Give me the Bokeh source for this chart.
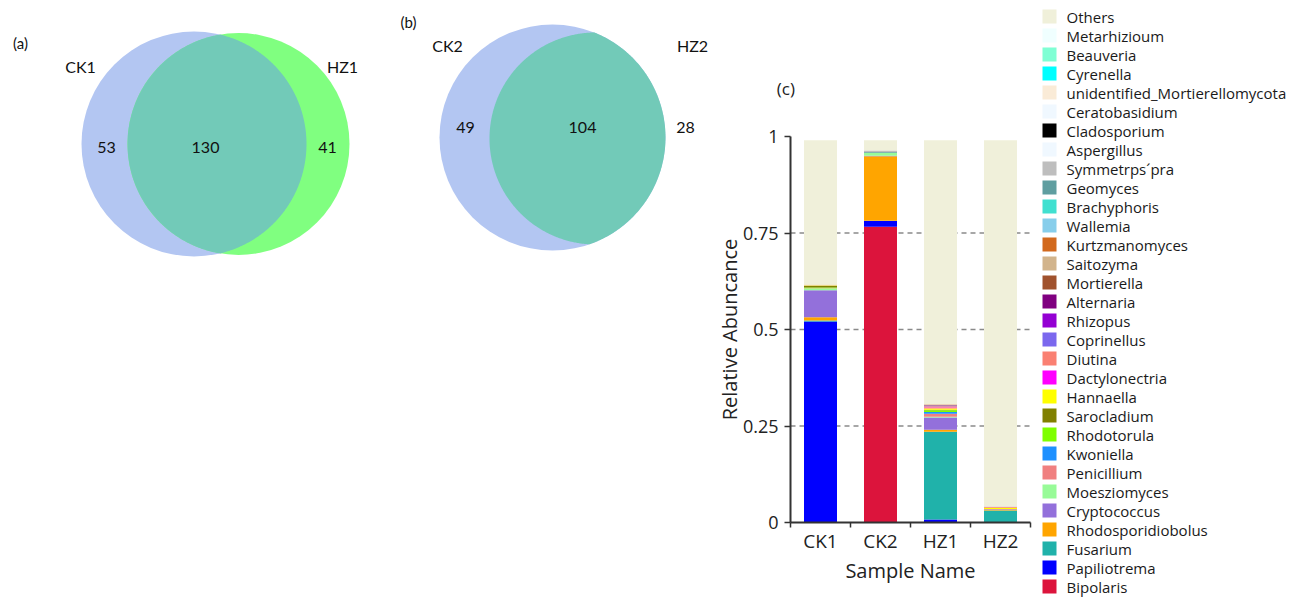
import numpy as np
from bokeh.plotting import figure
from bokeh.models import ColumnDataSource, Range1d, FixedTicker, LinearAxis
from bokeh.layouts import row
from bokeh.core.properties import value
from bokeh.embed import file_html
from bokeh.resources import INLINE

# ---------------- data ----------------
venn_a_sets = ["CK1", "HZ1"]
venn_a_counts = [53, 130, 41]      # CK1 only, shared, HZ1 only
venn_b_sets = ["CK2", "HZ2"]
venn_b_counts = [49, 104, 28]      # CK2 only, shared, HZ2 only

samples = ["CK1", "CK2", "HZ1", "HZ2"]

# stack order, bottom -> top
genera = ["Bipolaris", "Papiliotrema", "Fusarium", "Rhodosporidiobolus", "Cryptococcus",
          "Moesziomyces", "Penicillium", "Kwoniella", "Rhodotorula", "Sarocladium",
          "Hannaella", "Dactylonectria", "Diutina", "Coprinellus", "Rhizopus",
          "Alternaria", "Mortierella", "Saitozyma", "Kurtzmanomyces", "Wallemia",
          "Brachyphoris", "Geomyces", "Symmetrps\u00b4pra", "Aspergillus", "Cladosporium",
          "Ceratobasidium", "unidentified_Mortierellomycota", "Cyrenella", "Beauveria",
          "Metarhizioum", "Others"]
colors = ["#DC143C", "#0000FF", "#20B2AA", "#FFA500", "#9370DB",
          "#98FB98", "#F08080", "#1E90FF", "#7FFF00", "#808000",
          "#FFFF00", "#FF00FF", "#FA8072", "#7B68EE", "#9400D3",
          "#800080", "#A0522D", "#D2B48C", "#D2691E", "#87CEEB",
          "#40E0D0", "#5F9EA0", "#BEBEBE", "#F0F8FF", "#000000",
          "#F0F8FF", "#FAEBD7", "#00FFFF", "#7FFFD4",
          "#F0FFFF", "#F0F0DA"]

ck1 = [0.0, 0.521, 0.002, 0.009, 0.070, 0.004, 0.001, 0.0, 0.002, 0.004,
       0.001, 0.0, 0.0, 0.0, 0.0, 0.0, 0.0, 0.001, 0.001, 0.0,
       0.0, 0.0, 0.0, 0.0, 0.0, 0.0, 0.0, 0.0, 0.0, 0.0, 0.374]
ck2 = [0.766, 0.015, 0.001, 0.167, 0.001, 0.008, 0.0, 0.0, 0.0, 0.0,
       0.0, 0.0, 0.0, 0.0, 0.0, 0.0, 0.0, 0.0, 0.0, 0.0,
       0.0, 0.002, 0.004, 0.0, 0.0, 0.0, 0.0, 0.0, 0.0, 0.0, 0.026]
hz1 = [0.001, 0.007, 0.227, 0.005, 0.032, 0.002, 0.008, 0.004, 0.005, 0.001,
       0.004, 0.002, 0.003, 0.002, 0.0, 0.001, 0.0, 0.0, 0.002, 0.0,
       0.0, 0.0, 0.0, 0.0, 0.0, 0.0, 0.0, 0.0, 0.0, 0.0, 0.684]
hz2 = [0.0, 0.001, 0.030, 0.003, 0.001, 0.0, 0.0, 0.0, 0.0, 0.0,
       0.003, 0.0, 0.002, 0.0, 0.0, 0.001, 0.0, 0.0, 0.0, 0.0,
       0.0, 0.0, 0.0, 0.0, 0.0, 0.0, 0.0, 0.0, 0.0, 0.0, 0.949]

y_ticks = [0, 0.25, 0.5, 0.75, 1]
y_tick_labels = ["0", "0.25", "0.5", "0.75", "1"]
grid_values = [0.25, 0.5, 0.75]

VENN_BLUE = "#B3C6F2"
VENN_GREEN = "#80FF80"
VENN_SHARED = "#72CAB8"
TXT = "#111111"
H = 600
W_VENN, W_BAR, W_LEG = 710, 324, 256


def lens(c1, c2, n=720):
    (x1, y1, r1), (x2, y2, r2) = c1, c2
    t = np.linspace(-np.pi, np.pi, n, endpoint=False)
    a12 = np.arctan2(y2 - y1, x2 - x1)
    a21 = np.arctan2(y1 - y2, x1 - x2)
    px1, py1 = x1 + r1 * np.cos(a12 + t), y1 + r1 * np.sin(a12 + t)
    m1 = (px1 - x2) ** 2 + (py1 - y2) ** 2 <= r2 ** 2
    px2, py2 = x2 + r2 * np.cos(a21 + t), y2 + r2 * np.sin(a21 + t)
    m2 = (px2 - x1) ** 2 + (py2 - y1) ** 2 <= r1 ** 2
    return (np.concatenate([px1[m1], px2[m2]]).tolist(),
            np.concatenate([py1[m1], py2[m2]]).tolist())


# ---------------- Venn figure (page-pixel coordinates) ----------------
pv = figure(width=W_VENN, height=H, x_range=Range1d(0, W_VENN), y_range=Range1d(H, 0),
            output_backend="svg", toolbar_location=None,
            x_axis_type=None, y_axis_type=None, min_border=0)
pv.outline_line_color = None
pv.grid.visible = False

ca1, ca2 = (193.5, 143.5, 112.5), (238.0, 143.5, 111.0)
cb1, cb2 = (552.0, 137.0, 113.0), (595.0, 138.0, 106.0)

pv.circle(x=[ca1[0]], y=[ca1[1]], radius=ca1[2], fill_color=VENN_BLUE, line_color=None)
pv.circle(x=[ca2[0]], y=[ca2[1]], radius=ca2[2], fill_color=VENN_GREEN, line_color=None)
lx, ly = lens(ca1, ca2)
pv.patch(lx, ly, fill_color=VENN_SHARED, line_color=None)

pv.circle(x=[cb1[0]], y=[cb1[1]], radius=cb1[2], fill_color=VENN_BLUE, line_color=None)
lx, ly = lens(cb1, cb2)
pv.patch(lx, ly, fill_color=VENN_SHARED, line_color=None)

venn_text = dict(
    x=[20, 408, 80, 342, 106, 205, 327, 447, 692, 465, 582, 685],
    y=[42, 21, 66, 66, 147, 147, 147, 45, 45, 127, 127, 127],
    text=["(a)", "(b)"] + venn_a_sets + [str(v) for v in venn_a_counts]
         + venn_b_sets + [str(v) for v in venn_b_counts],
    size=["15px", "15px"] + ["16px"] * 10,
)
pv.text(x="x", y="y", text="text", text_font_size="size", source=ColumnDataSource(venn_text),
        text_font=value("Lato"), text_color=TXT, text_align="center", text_baseline="middle")

# ---------------- stacked bar figure ----------------
# frame fills the whole figure; axes are pinned at 0 so they need no side panels
n = len(samples)
px_per_x = 60.0
px_per_y = 386.0
left_pad = 790 - W_VENN                  # page px from figure edge to the y axis
pb = figure(width=W_BAR, height=H,
            x_range=Range1d(-left_pad / px_per_x, (W_VENN + W_BAR - 790) / px_per_x),
            y_range=Range1d(-(H - 522) / px_per_y, 1 + 136 / px_per_y),
            output_backend="svg", toolbar_location=None,
            x_axis_type=None, y_axis_type=None, min_border=0)
pb.outline_line_color = None
pb.grid.visible = False

# dashed reference lines
pb.segment(x0=0, x1=n, y0=grid_values, y1=grid_values,
           line_color="#8a8a8a", line_dash="5 4", line_width=1.5)

xpos = [i + 0.5 for i in range(n)]
data = {"x": xpos}
for i, g in enumerate(genera):
    data[g] = [ck1[i], ck2[i], hz1[i], hz2[i]]
src = ColumnDataSource(data)
pb.vbar_stack(genera, x="x", width=0.55, fill_color=colors, line_color=None, source=src)

xa = LinearAxis(fixed_location=0, bounds=(0, n),
                ticker=FixedTicker(ticks=xpos, minor_ticks=list(range(n + 1))))
ya = LinearAxis(fixed_location=0, bounds=(0, 1),
                ticker=FixedTicker(ticks=y_ticks, minor_ticks=[]))
for ax in (xa, ya):
    ax.axis_line_color = "#333333"
    ax.axis_line_width = 2
    ax.major_label_text_font = "Open Sans"
    ax.major_label_text_color = "#222222"
    ax.axis_label_text_font = "Open Sans"
    ax.axis_label_text_font_size = "20px"
    ax.axis_label_text_font_style = "normal"
    ax.axis_label_text_color = "#222222"
    ax.major_tick_line_color = "#333333"
    ax.minor_tick_line_color = "#333333"
    ax.major_tick_line_width = 1.5
    ax.minor_tick_line_width = 1.5

ya.major_label_text_font_size = "18px"
ya.major_label_overrides = dict(zip(y_ticks, y_tick_labels))
ya.major_tick_out = 6
ya.major_tick_in = 0
ya.major_label_standoff = 6
ya.axis_label = "Relative Abuncance"
ya.axis_label_standoff = -3

xa.major_label_text_font_size = "19px"
xa.major_label_overrides = dict(zip(xpos, samples))
xa.major_tick_out = 0
xa.major_tick_in = 0
xa.minor_tick_out = 5
xa.minor_tick_in = 0
xa.major_label_standoff = 0
xa.axis_label = "Sample Name"
xa.axis_label_standoff = 0

pb.add_layout(xa, "below")
pb.add_layout(ya, "left")

pb.text(x=[-0.076], y=[1.125], text=["(c)"], text_font=value("Open Sans"),
        text_font_size="17px", text_color="#222222",
        text_align="center", text_baseline="middle")

# ---------------- legend figure (page-pixel coordinates) ----------------
x0_leg = W_VENN + W_BAR
pl = figure(width=W_LEG, height=H, x_range=Range1d(x0_leg, x0_leg + W_LEG), y_range=Range1d(H, 0),
            output_backend="svg", toolbar_location=None,
            x_axis_type=None, y_axis_type=None, min_border=0)
pl.outline_line_color = None
pl.grid.visible = False

leg_names = list(reversed(genera))
leg_colors = list(reversed(colors))
leg_y = [16 + 19.0 * i for i in range(len(leg_names))]
lsrc = ColumnDataSource(dict(y=leg_y, name=leg_names, color=leg_colors))
pl.rect(x=1049, y="y", width=14, height=14, fill_color="color", line_color=None, source=lsrc)
pl.text(x=1066, y="y", text="name", source=lsrc, text_font=value("Open Sans"),
        text_font_size="15px", text_color="#1a1a1a", text_align="left", text_baseline="middle")

layout = row(pv, pb, pl)
open("out.html", "w").write(file_html(layout, INLINE))
